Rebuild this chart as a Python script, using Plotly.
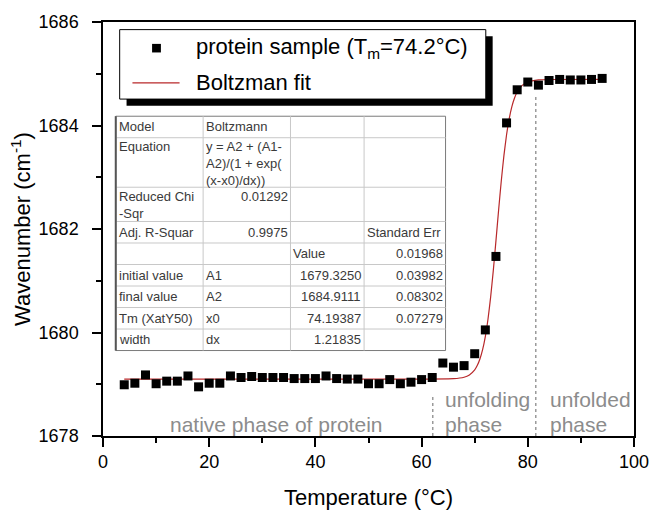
import plotly.graph_objects as go

# ---------------- data ----------------
temperature = [4, 6, 8, 10, 12, 14, 16, 18, 20, 22, 24, 26, 28, 30, 32, 34, 36, 38, 40, 42,
               44, 46, 48, 50, 52, 54, 56, 58, 60, 62, 64, 66, 68, 70, 72, 74, 76, 78, 80, 82,
               84, 86, 88, 90, 92, 94]
wavenumber = [1678.99, 1679.02, 1679.18, 1679.01, 1679.06, 1679.06, 1679.16, 1678.95, 1679.02, 1679.02,
              1679.16, 1679.13, 1679.15, 1679.13, 1679.13, 1679.13, 1679.11, 1679.11, 1679.11, 1679.16,
              1679.11, 1679.10, 1679.10, 1679.01, 1679.01, 1679.09, 1679.01, 1679.04, 1679.09, 1679.13,
              1679.41, 1679.33, 1679.36, 1679.59, 1680.05, 1681.47, 1684.05, 1684.69, 1684.84, 1684.78,
              1684.87, 1684.89, 1684.88, 1684.88, 1684.89, 1684.91]

fit_temperature = [4, 60, 66, 68, 69, 70, 70.5, 71, 71.5, 72, 72.5, 73, 73.5, 74, 74.5, 75, 75.5,
                   76, 76.5, 77, 77.5, 78, 79, 80, 82, 85, 94]
fit_wavenumber = [1679.100, 1679.100, 1679.107, 1679.136, 1679.181, 1679.280, 1679.367, 1679.493,
                  1679.673, 1679.922, 1680.256, 1680.684, 1681.196, 1681.770, 1682.362, 1682.923,
                  1683.417, 1683.821, 1684.134, 1684.365, 1684.532, 1684.647, 1684.781, 1684.841,
                  1684.880, 1684.889, 1684.890]

phase_boundary_x = [62.1, 81.5]
phase_boundary_top = [1678.8, 1684.55]

x_ticks = [0, 20, 40, 60, 80, 100]
y_ticks = [1678, 1680, 1682, 1684, 1686]

legend_labels = ["protein sample (T<sub>m</sub>=74.2°C)", "Boltzman fit"]

table_rows = [
    ["Model", "Boltzmann", "", ""],
    ["Equation", "y = A2 + (A1-\nA2)/(1 + exp(\n(x-x0)/dx))", "", ""],
    ["Reduced Chi\n-Sqr", "0.01292", "", ""],
    ["Adj. R-Squar", "0.9975", "", "Standard Err"],
    ["", "", "Value", "0.01968"],
    ["initial value", "A1", "1679.3250", "0.03982"],
    ["final value", "A2", "1684.9111", "0.08302"],
    ["Tm (XatY50)", "x0", "74.19387", "0.07279"],
    ["width", "dx", "1.21835", ""],
]

# ---------------- geometry helpers (pixel -> paper) ----------------
W, H = 661, 518
L, R, T, B = 103, 644, 22, 457
FONT = "Liberation Sans, Arial, sans-serif"
RED = "#b8282a"


def px(x):
    return (x - L) / (R - L)


def py(y):
    return (B - y) / (B - T)


fig = go.Figure()

fig.add_trace(go.Scatter(
    x=fit_temperature, y=fit_wavenumber, mode="lines",
    line=dict(color=RED, width=1.2, shape="spline", smoothing=0.5),
    name=legend_labels[1], showlegend=False, hoverinfo="skip"))

fig.add_trace(go.Scatter(
    x=temperature, y=wavenumber, mode="markers",
    marker=dict(symbol="square", size=9, color="black"),
    name=legend_labels[0], showlegend=False))

shapes = []
annotations = []

# phase boundaries (dotted)
for xb, yt in zip(phase_boundary_x, phase_boundary_top):
    shapes.append(dict(type="line", xref="x", yref="y", x0=xb, x1=xb, y0=1678, y1=yt,
                       line=dict(color="#9a9a9a", width=1.5, dash="dot")))

# phase labels
phase_color = "#8c8c8c"
pfont = dict(family=FONT, size=21, color=phase_color)
annotations += [
    dict(x=32.6, y=1678.22, xref="x", yref="y", text="native phase of protein", showarrow=False,
         xanchor="center", yanchor="middle", font=pfont),
    dict(x=64.0, y=1678.70, xref="x", yref="y", text="unfolding", showarrow=False,
         xanchor="left", yanchor="middle", font=pfont),
    dict(x=64.0, y=1678.22, xref="x", yref="y", text="phase", showarrow=False,
         xanchor="left", yanchor="middle", font=pfont),
    dict(x=83.8, y=1678.70, xref="x", yref="y", text="unfolded", showarrow=False,
         xanchor="left", yanchor="middle", font=pfont),
    dict(x=83.8, y=1678.22, xref="x", yref="y", text="phase", showarrow=False,
         xanchor="left", yanchor="middle", font=pfont),
]

# ---------------- custom legend box with shadow ----------------
lg = dict(x0=120, x1=493, y0=30, y1=103)
sh = 7
shapes.append(dict(type="rect", xref="paper", yref="paper",
                   x0=px(lg["x0"] + sh), x1=px(lg["x1"] + sh), y0=py(lg["y1"] + sh), y1=py(lg["y0"] + sh),
                   fillcolor="black", line=dict(width=0)))
shapes.append(dict(type="rect", xref="paper", yref="paper",
                   x0=px(lg["x0"]), x1=px(lg["x1"]), y0=py(lg["y1"]), y1=py(lg["y0"]),
                   fillcolor="white", line=dict(color="black", width=1)))
shapes.append(dict(type="rect", xref="paper", yref="paper",
                   x0=px(153), x1=px(162), y0=py(54), y1=py(45),
                   fillcolor="black", line=dict(width=0)))
shapes.append(dict(type="line", xref="paper", yref="paper",
                   x0=px(133), x1=px(181), y0=py(86), y1=py(86),
                   line=dict(color=RED, width=1.2)))
annotations.append(dict(x=px(196), y=py(49.5), xref="paper", yref="paper", text=legend_labels[0],
                        showarrow=False, xanchor="left", yanchor="middle",
                        font=dict(family=FONT, size=22, color="black")))
annotations.append(dict(x=px(196), y=py(86), xref="paper", yref="paper", text=legend_labels[1],
                        showarrow=False, xanchor="left", yanchor="middle",
                        font=dict(family=FONT, size=22, color="black")))

# ---------------- fit-result table ----------------
col_edges = [116, 205, 294, 369, 452]
table_top = 121
row_h = {1: 22.6, 2: 36.0, 3: 52.0}


def is_number(s):
    try:
        float(s)
        return True
    except ValueError:
        return False


y = table_top
row_tops = []
for row in table_rows:
    nlines = max(len(c.split("\n")) for c in row)
    row_tops.append((y, nlines))
    y += row_h[nlines]
table_bottom = y

shapes.append(dict(type="rect", xref="paper", yref="paper",
                   x0=px(col_edges[0]), x1=px(col_edges[-1]), y0=py(table_bottom), y1=py(table_top),
                   fillcolor="white", line=dict(color="#7a7a7a", width=1)))
for ce in col_edges[1:-1]:
    shapes.append(dict(type="line", xref="paper", yref="paper", x0=px(ce), x1=px(ce),
                       y0=py(table_bottom), y1=py(table_top), line=dict(color="#c8c8c8", width=1)))
for (rt, _n) in row_tops[1:]:
    shapes.append(dict(type="line", xref="paper", yref="paper", x0=px(col_edges[0]), x1=px(col_edges[-1]),
                       y0=py(rt), y1=py(rt), line=dict(color="#c8c8c8", width=1)))
shapes.append(dict(type="line", xref="paper", yref="paper", x0=px(col_edges[0]), x1=px(col_edges[0]),
                   y0=py(table_bottom), y1=py(table_top), line=dict(color="#555555", width=2)))

tcolor = "#3a3a3a"
for (rt, nlines), row in zip(row_tops, table_rows):
    for ci, cell in enumerate(row):
        if not cell:
            continue
        right = is_number(cell)
        top_aligned = nlines > 1
        annotations.append(dict(
            x=px(col_edges[ci + 1] - 2) if right else px(col_edges[ci] + 2),
            y=py(rt + 0.5) if top_aligned else py(rt + row_h[1] / 2),
            xref="paper", yref="paper", text=cell.replace("\n", "<br>"), showarrow=False,
            xanchor="right" if right else "left",
            yanchor="top" if top_aligned else "middle",
            align="right" if right else "left", borderpad=0,
            font=dict(family=FONT, size=13, color=tcolor)))

axis_common = dict(showline=True, linecolor="black", linewidth=1.5, mirror=True,
                   ticks="outside", ticklen=9, tickwidth=1.5, tickcolor="black",
                   showgrid=False, zeroline=False,
                   tickfont=dict(family=FONT, size=18, color="black"))

fig.update_layout(
    width=W, height=H,
    margin=dict(l=L, r=W - R, t=T, b=H - B),
    paper_bgcolor="white", plot_bgcolor="white",
    showlegend=False,
    shapes=shapes, annotations=annotations,
    xaxis=dict(range=[0, 100], tickvals=x_ticks,
               minor=dict(dtick=10, ticklen=5, tickwidth=1.5, tickcolor="black", ticks="outside"),
               title=dict(text="Temperature (°C)", font=dict(family=FONT, size=22, color="black"),
                          standoff=18),
               **axis_common),
    yaxis=dict(range=[1678, 1686], tickvals=y_ticks, ticklabelstandoff=10,
               minor=dict(dtick=1, ticklen=5, tickwidth=1.5, tickcolor="black", ticks="outside"),
               title=dict(text="Wavenumber (cm<sup>-1</sup>)", font=dict(family=FONT, size=22, color="black"),
                          standoff=2),
               **axis_common),
)

fig.write_html("out.html", config={"displayModeBar": False},
               post_script="document.body.style.margin='0';document.body.style.overflow='hidden';")
